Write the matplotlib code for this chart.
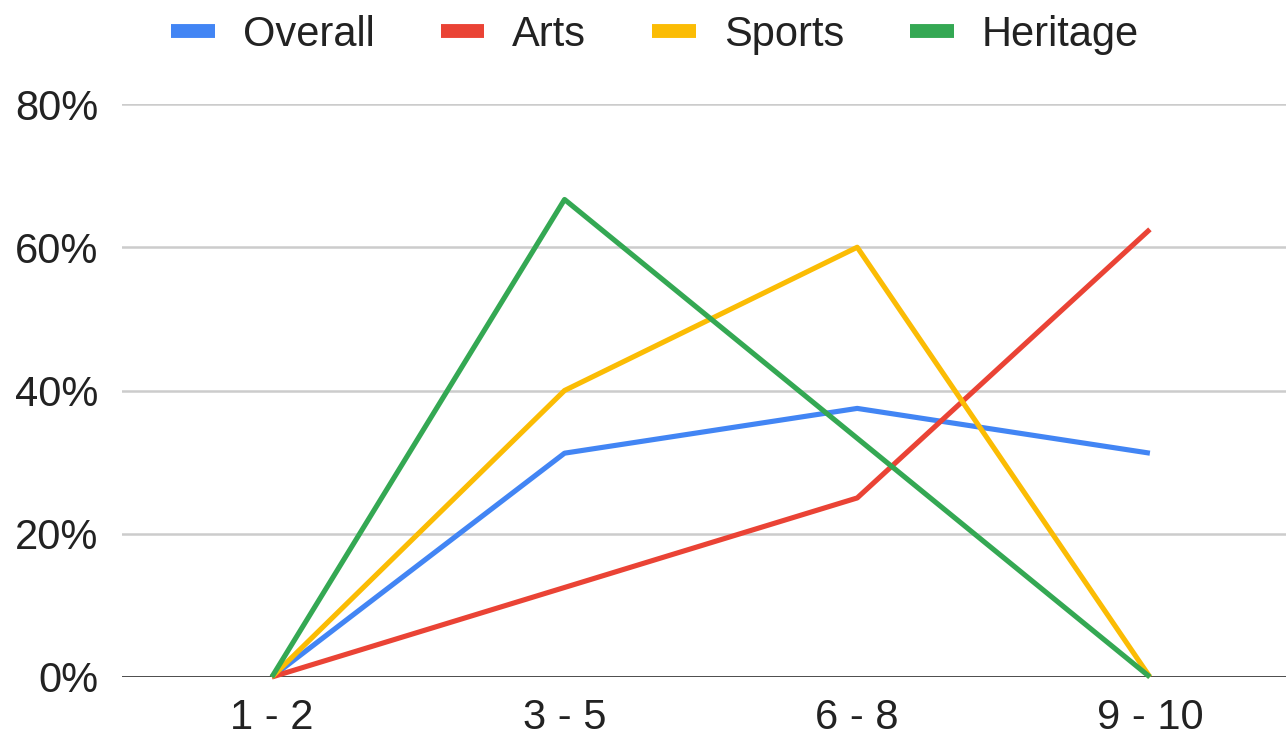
import matplotlib
matplotlib.use("Agg")
import matplotlib.pyplot as plt
from matplotlib.ticker import FuncFormatter

plt.rcParams['font.family'] = ['Liberation Sans', 'DejaVu Sans']

# age groups and share of respondents per category
age_groups = ['1 - 2', '3 - 5', '6 - 8', '9 - 10']
overall = [0.0, 0.3125, 0.375, 0.3125]
arts = [0.0, 0.125, 0.25, 0.625]
sports = [0.0, 0.40, 0.60, 0.0]
heritage = [0.0, 0.6667, 0.3333, 0.0]

series = [
    ('Overall', overall, '#4285F4'),
    ('Arts', arts, '#EA4335'),
    ('Sports', sports, '#FBBC04'),
    ('Heritage', heritage, '#34A853'),
]

fig = plt.figure(figsize=(12.86, 7.38), dpi=100)
ax = fig.add_axes([122 / 1286, 1 - 677 / 738, 1 - 122 / 1286, (677 - 104) / 738])

x = list(range(len(age_groups)))
handles = []
for name, vals, color in series:
    ax.plot(x, vals, color=color, lw=3.7, solid_capstyle='butt', clip_on=False, zorder=3)
    h, = ax.plot([], [], color=color, lw=10, solid_capstyle='butt', label=name)
    handles.append(h)

ax.set_xlim(-0.512, 3.465)
ax.set_ylim(0, 0.8)
ax.set_yticks([0, 0.2, 0.4, 0.6, 0.8])
ax.yaxis.set_major_formatter(FuncFormatter(lambda v, _: f'{v * 100:.0f}%'))
ax.set_xticks(x)
ax.set_xticklabels(age_groups)

ax.grid(axis='y', color='#cccccc', lw=1.8)
ax.set_axisbelow(True)
for s in ax.spines.values():
    s.set_visible(False)
ax.axhline(0, color='#333333', lw=1.9, zorder=2)

ax.tick_params(length=0, labelsize=30, colors='#222222')
ax.tick_params(axis='x', pad=15)
ax.tick_params(axis='y', pad=17)

fig.legend(handles=handles, loc='center', bbox_to_anchor=(655 / 1286, 1 - 35 / 738),
           ncol=4, frameon=False, fontsize=30, labelcolor='#222222',
           handlelength=1.05, handletextpad=0.67, columnspacing=1.58)

fig.savefig('out.png', dpi=100)
